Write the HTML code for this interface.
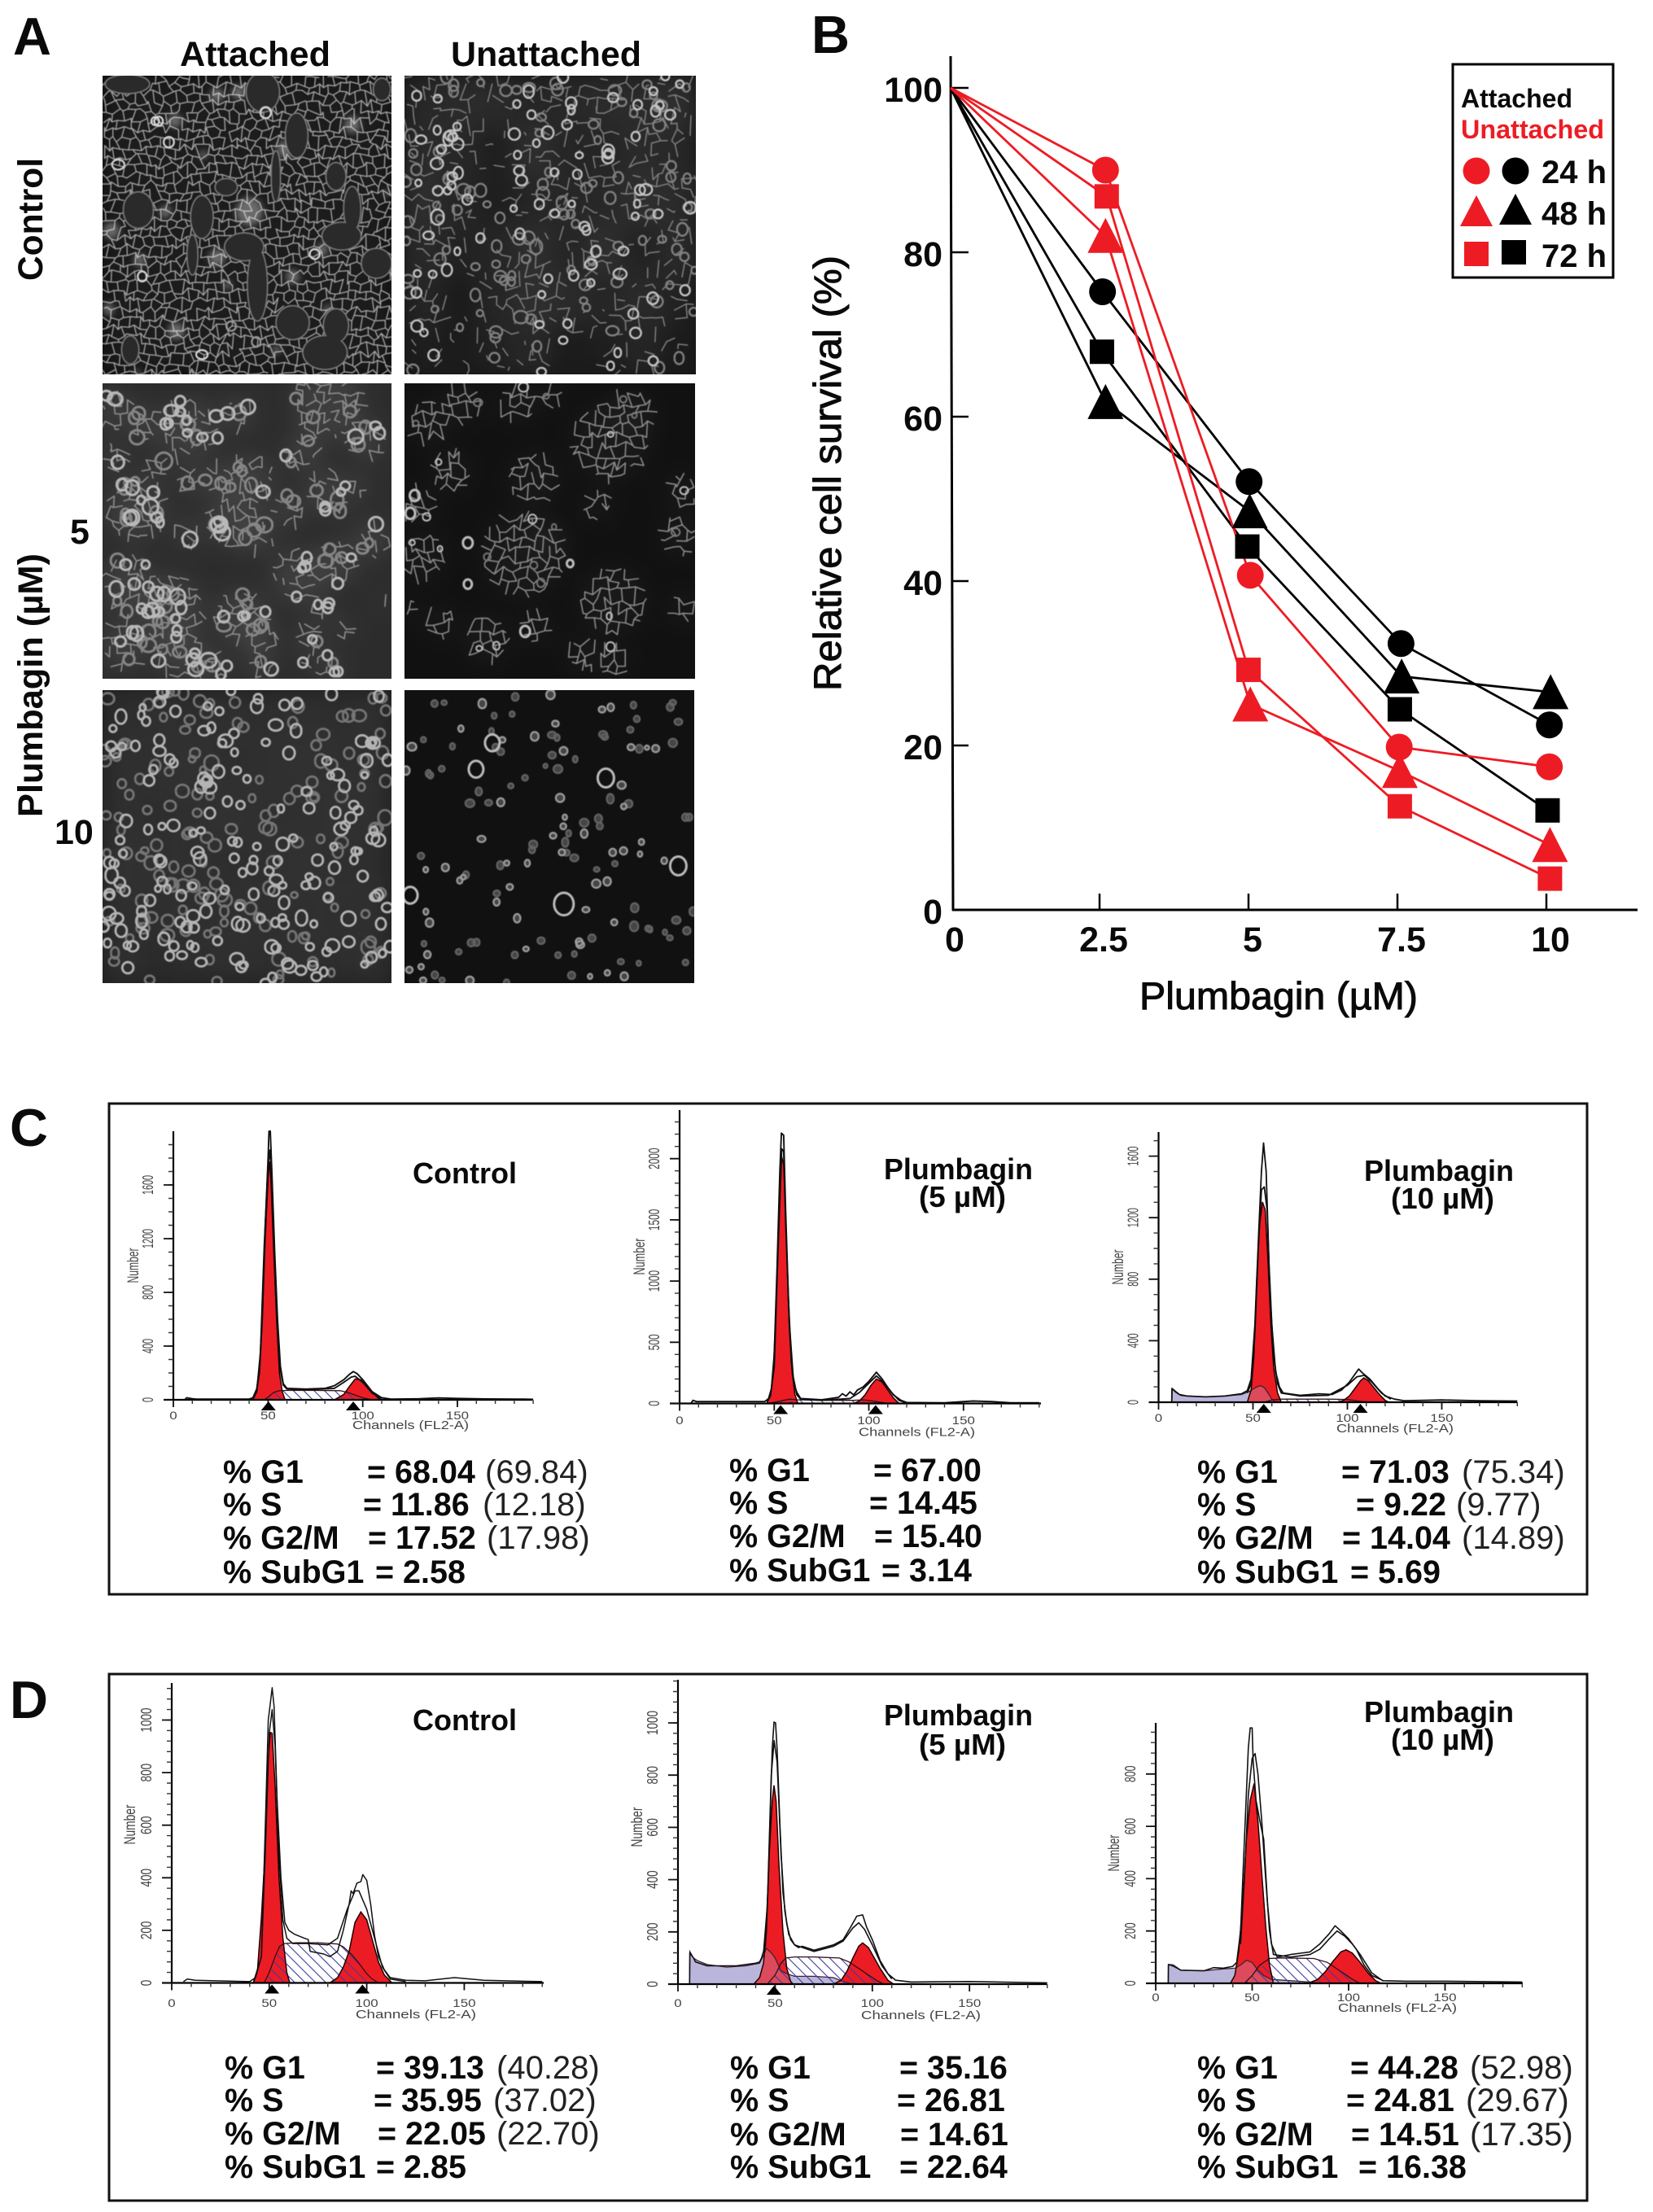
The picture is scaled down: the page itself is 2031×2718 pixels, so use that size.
<!DOCTYPE html>
<html lang="en">
<head>
<meta charset="utf-8">
<title>Plumbagin cell survival and cell cycle figure</title>
<style>
html,body{margin:0;padding:0;background:#fff;}
svg{display:block;}
text{font-family:"Liberation Sans",sans-serif;fill:#0a0a0a;}
.b{font-weight:700;}
.letter{font-weight:700;font-size:65px;}
.h43{font-weight:700;font-size:43px;}
.stat{font-weight:700;font-size:39.5px;}
.paren{font-weight:400;fill:#222;font-size:40px;}
.ttl{font-weight:700;font-size:36px;}
.axt{font-weight:400;font-size:47px;stroke:#0a0a0a;stroke-width:1px;}
.leg{font-weight:700;font-size:32px;}
.legh{font-weight:700;font-size:40px;}
.hy{fill:#444;font-size:18px;}
.hn{fill:#444;font-size:19px;}
.hx{fill:#444;font-size:13.5px;}
.hc{fill:#444;font-size:14.5px;}
</style>
</head>
<body>
<svg id="figure" xmlns="http://www.w3.org/2000/svg" width="2031" height="2718" viewBox="0 0 2031 2718">
<defs>
<pattern id="hatch" patternUnits="userSpaceOnUse" width="9" height="9" patternTransform="rotate(-45)">
<line x1="0" y1="0" x2="0" y2="9" stroke="#3d3d9c" stroke-width="2.2"/>
</pattern>
<filter id="soft" x="-20%" y="-20%" width="140%" height="140%"><feGaussianBlur stdDeviation="14"/></filter>
<filter id="mid" x="-20%" y="-20%" width="140%" height="140%"><feGaussianBlur stdDeviation="4"/></filter>
<filter id="fine" x="-5%" y="-5%" width="110%" height="110%"><feGaussianBlur stdDeviation="0.6"/></filter>
</defs>
<rect x="0" y="0" width="2031" height="2718" fill="#fff"/>

<!-- Panel A -->
<text class="letter" x="16" y="67">A</text>
<text class="h43" x="221" y="81" textLength="185" lengthAdjust="spacingAndGlyphs">Attached</text>
<text class="h43" x="554" y="81" textLength="234" lengthAdjust="spacingAndGlyphs">Unattached</text>
<text class="h43" transform="translate(52,345) rotate(-90)" textLength="151" lengthAdjust="spacingAndGlyphs">Control</text>
<text class="h43" transform="translate(52,1004) rotate(-90)" textLength="324" lengthAdjust="spacingAndGlyphs">Plumbagin (µM)</text>
<text class="h43" x="86" y="668">5</text>
<text class="h43" x="67" y="1037">10</text>
<g id="micrographs"></g>

<!-- Panel B -->
<text class="letter" x="997" y="65">B</text>
<text class="axt" transform="translate(1033,849) rotate(-90)" textLength="535" lengthAdjust="spacingAndGlyphs">Relative cell survival (%)</text>
<text class="axt" x="1400" y="1240" textLength="342" lengthAdjust="spacingAndGlyphs">Plumbagin (µM)</text>
<g id="survival"></g>
<g>
<rect x="1785" y="79" width="197" height="262" fill="#fff" stroke="#000" stroke-width="3"/>
<text class="leg" x="1795" y="132" textLength="137" lengthAdjust="spacingAndGlyphs">Attached</text>
<text class="leg" x="1795" y="170" textLength="176" lengthAdjust="spacingAndGlyphs" style="fill:#ed1c24">Unattached</text>
<circle cx="1814" cy="210" r="16.5" fill="#ed1c24"/>
<circle cx="1862" cy="210" r="16.5" fill="#000"/>
<polygon points="1794,278 1834,278 1814,240" fill="#ed1c24"/>
<polygon points="1842,276 1882,276 1862,238" fill="#000"/>
<rect x="1799" y="297" width="30" height="30" fill="#ed1c24"/>
<rect x="1845" y="295" width="30" height="30" fill="#000"/>
<text class="legh" x="1894" y="225" textLength="80" lengthAdjust="spacingAndGlyphs">24 h</text>
<text class="legh" x="1894" y="276" textLength="80" lengthAdjust="spacingAndGlyphs">48 h</text>
<text class="legh" x="1894" y="328" textLength="80" lengthAdjust="spacingAndGlyphs">72 h</text>
</g>

<!-- Panel C -->
<text class="letter" x="12" y="1408">C</text>
<rect x="134" y="1356" width="1816" height="603" fill="none" stroke="#111" stroke-width="3"/>
<text class="ttl" x="507" y="1454" textLength="128" lengthAdjust="spacingAndGlyphs">Control</text>
<text class="ttl" x="1086" y="1449" textLength="183" lengthAdjust="spacingAndGlyphs">Plumbagin</text>
<text class="ttl" x="1129" y="1483" textLength="107" lengthAdjust="spacingAndGlyphs">(5 µM)</text>
<text class="ttl" x="1676" y="1451" textLength="184" lengthAdjust="spacingAndGlyphs">Plumbagin</text>
<text class="ttl" x="1709" y="1485" textLength="127" lengthAdjust="spacingAndGlyphs">(10 µM)</text>

<g>
<text class="stat" y="1822"><tspan x="274">% G1</tspan><tspan x="451">= 68.04</tspan><tspan x="596" class="paren">(69.84)</tspan></text>
<text class="stat" y="1862"><tspan x="274">% S</tspan><tspan x="446">= 11.86</tspan><tspan x="593" class="paren">(12.18)</tspan></text>
<text class="stat" y="1903"><tspan x="274">% G2/M</tspan><tspan x="452">= 17.52</tspan><tspan x="598" class="paren">(17.98)</tspan></text>
<text class="stat" y="1945"><tspan x="274">% SubG1</tspan><tspan x="461">= 2.58</tspan></text>
</g>
<g>
<text class="stat" y="1820"><tspan x="896">% G1</tspan><tspan x="1073">= 67.00</tspan></text>
<text class="stat" y="1860"><tspan x="896">% S</tspan><tspan x="1068">= 14.45</tspan></text>
<text class="stat" y="1901"><tspan x="896">% G2/M</tspan><tspan x="1074">= 15.40</tspan></text>
<text class="stat" y="1943"><tspan x="896">% SubG1</tspan><tspan x="1083">= 3.14</tspan></text>
</g>
<g>
<text class="stat" y="1822"><tspan x="1471">% G1</tspan><tspan x="1648">= 71.03</tspan><tspan x="1796" class="paren">(75.34)</tspan></text>
<text class="stat" y="1862"><tspan x="1471">% S</tspan><tspan x="1666">= 9.22</tspan><tspan x="1789" class="paren">(9.77)</tspan></text>
<text class="stat" y="1903"><tspan x="1471">% G2/M</tspan><tspan x="1649">= 14.04</tspan><tspan x="1796" class="paren">(14.89)</tspan></text>
<text class="stat" y="1945"><tspan x="1471">% SubG1</tspan><tspan x="1659">= 5.69</tspan></text>
</g>

<!-- Panel D -->
<text class="letter" x="12" y="2111">D</text>
<rect x="134" y="2057" width="1816" height="647" fill="none" stroke="#111" stroke-width="3"/>
<text class="ttl" x="507" y="2126" textLength="128" lengthAdjust="spacingAndGlyphs">Control</text>
<text class="ttl" x="1086" y="2120" textLength="183" lengthAdjust="spacingAndGlyphs">Plumbagin</text>
<text class="ttl" x="1129" y="2156" textLength="107" lengthAdjust="spacingAndGlyphs">(5 µM)</text>
<text class="ttl" x="1676" y="2116" textLength="184" lengthAdjust="spacingAndGlyphs">Plumbagin</text>
<text class="ttl" x="1709" y="2150" textLength="127" lengthAdjust="spacingAndGlyphs">(10 µM)</text>

<g>
<text class="stat" y="2554"><tspan x="276">% G1</tspan><tspan x="462">= 39.13</tspan><tspan x="610" class="paren">(40.28)</tspan></text>
<text class="stat" y="2594"><tspan x="276">% S</tspan><tspan x="459">= 35.95</tspan><tspan x="606" class="paren">(37.02)</tspan></text>
<text class="stat" y="2635"><tspan x="276">% G2/M</tspan><tspan x="464">= 22.05</tspan><tspan x="610" class="paren">(22.70)</tspan></text>
<text class="stat" y="2676"><tspan x="276">% SubG1</tspan><tspan x="462">= 2.85</tspan></text>
</g>
<g>
<text class="stat" y="2554"><tspan x="897">% G1</tspan><tspan x="1105">= 35.16</tspan></text>
<text class="stat" y="2594"><tspan x="897">% S</tspan><tspan x="1102">= 26.81</tspan></text>
<text class="stat" y="2636"><tspan x="897">% G2/M</tspan><tspan x="1106">= 14.61</tspan></text>
<text class="stat" y="2676"><tspan x="897">% SubG1</tspan><tspan x="1105">= 22.64</tspan></text>
</g>
<g>
<text class="stat" y="2554"><tspan x="1471">% G1</tspan><tspan x="1659">= 44.28</tspan><tspan x="1806" class="paren">(52.98)</tspan></text>
<text class="stat" y="2594"><tspan x="1471">% S</tspan><tspan x="1654">= 24.81</tspan><tspan x="1801" class="paren">(29.67)</tspan></text>
<text class="stat" y="2636"><tspan x="1471">% G2/M</tspan><tspan x="1660">= 14.51</tspan><tspan x="1806" class="paren">(17.35)</tspan></text>
<text class="stat" y="2676"><tspan x="1471">% SubG1</tspan><tspan x="1669">= 16.38</tspan></text>
</g>
<g id="histograms"></g>
</svg>

<script>
/* ---------- Panel B data ---------- */
const survivalTicks = [0, 20, 40, 60, 80, 100];
const doseTicks = [0, 2.5, 5, 7.5, 10];
const doseTickLabels = ['0', '2.5', '5', '7.5', '10'];
const attached24hDose = [0, 2.55, 5.01, 7.56, 10.05];
const attached24h = [100, 75.2, 52.1, 32.4, 22.5];
const attached48hDose = [0, 2.6, 5.02, 7.57, 10.07];
const attached48h = [100, 61.8, 48.5, 28.4, 26.5];
const attached72hDose = [0, 2.54, 4.98, 7.54, 10.02];
const attached72h = [100, 67.9, 44.2, 24.4, 12.1];
const unattached24hDose = [0, 2.6, 5.03, 7.53, 10.05];
const unattached24h = [100, 90, 40.7, 19.8, 17.4];
const unattached48hDose = [0, 2.6, 5.03, 7.54, 10.06];
const unattached48h = [100, 82, 25, 16.9, 7.9];
const unattached72hDose = [0, 2.62, 5, 7.54, 10.06];
const unattached72h = [100, 86.8, 29.2, 12.6, 3.8];

/* ---------- Panels C and D data: channel / cell-count pairs ---------- */
const c1G1Ch = [42,44,45.5,47,48.5,50,50.8,51.5,53,54.5,56,57.5,59];
const c1G1N = [0,60,200,600,1200,1650,1775,1650,1100,600,200,60,0];
const c1G2Ch = [85,90,93,96,99,102,105,108,110];
const c1G2N = [0,40,100,155,150,105,55,15,0];
const c1SCh = [48,50,53,56,60,75,88,92,96,100,105];
const c1SN = [0,20,55,68,70,70,68,55,35,15,0];
const c1RawCh = [6,7,10,12,40,42,44,45.5,47,48.5,50,50.5,51.2,52,53.5,55,56.5,58,60,70,80,85,90,93,95,97,100,105,110,115,130,140,150,165,185,190];
const c1RawN = [0,15,8,5,5,15,80,230,650,1300,1800,2000,2000,1700,1100,600,250,120,85,80,85,105,150,190,210,195,150,60,15,5,8,14,10,6,5,3];
const c1FitCh = [42,44,46,48,50,51,52,54,56,58,60,70,85,90,94,96,100,105,110];
const c1FitN = [5,60,350,1150,1750,1860,1650,800,260,110,80,75,85,130,170,175,130,50,10];

const c2G1Ch = [46,48,49.5,51,52.5,54,55,56.5,58,59.5,61,62.5];
const c2G1N = [0,60,250,800,1600,2015,1950,1300,600,250,70,0];
const c2G2Ch = [92,95,98,101,104,107,110,113,116];
const c2G2N = [0,20,70,145,200,175,110,45,0];
const c2SCh = [47,52,58,62,75,92,97,104,110];
const c2SN = [0,15,35,30,25,25,30,15,0];
const c2RawCh = [6,7,9,45,47,48.5,50,51.5,53,53.8,55,56,57.5,59,60.5,62,64,75,84,86,88,90,92,94,97,100,104,107,110,113,117,120,140,155,165,175,190];
const c2RawN = [0,25,15,15,40,120,400,1100,1900,2209,2190,1600,850,350,150,90,40,30,50,80,60,95,70,110,135,180,255,200,130,70,25,8,5,20,15,5,5];
const c2FitCh = [46,48,50,52,54,55,56,58,60,62,64,75,90,95,100,104,108,112,116,120];
const c2FitN = [15,60,300,1250,2080,2060,1500,650,220,70,35,25,40,90,165,225,170,90,25,5];

const c3G1Ch = [47,49,50.5,52,53.5,55,56.5,58,59.5,61,63,65];
const c3G1N = [0,80,300,800,1150,1302,1250,900,500,220,60,0];
const c3G2Ch = [95,98,101,104,107,108.7,111,114,117,120,122];
const c3G2N = [0,12,40,90,140,158,140,95,50,12,0];
const c3SCh = [56,60,65,90,100,108,115];
const c3SN = [0,15,20,20,18,5,0];
const c3SubCh = [7,7.2,9,12,25,35,44,48,52,54,56,58,60,62];
const c3SubN = [0,86,65,43,35,40,50,70,100,108,95,60,20,0];
const c3RawCh = [7,7.1,9,11,15,25,35,44,47,49,51,53,54.5,55.6,57,58.5,60,62,64,66,75,85,92,97,101,106,108,112,116,120,125,130,150,170,190];
const c3RawN = [0,90,70,50,40,35,40,55,75,150,500,1100,1500,1685,1500,900,500,200,100,60,45,55,50,80,130,216,190,150,90,40,20,10,15,10,8];
const c3FitCh = [47,49,51,53,54.5,56,57.5,59,61,63,65,75,90,100,105,109,113,118,123];
const c3FitN = [60,120,450,1050,1380,1400,1250,700,300,120,60,40,45,110,165,175,130,60,20];

const d1G1Ch = [42,44,46,47.5,49,50.5,51.5,53,55,57,59,60.5];
const d1G1N = [0,50,250,450,800,953,950,750,400,170,40,0];
const d1G2Ch = [81,85,88,91,94,97,100,103,106,109,113];
const d1G2N = [0,20,60,120,230,270,240,160,80,30,0];
const d1SCh = [47.4,50,53,55.4,58,64,75,85,88,92,96,100,102.6,106];
const d1SN = [0,40,100,140,150,153,153,148,137,110,75,35,16,0];
const d1RawCh = [6,8,12,40,43,46,48,49.5,50.5,51.5,52.5,54,56,58,60,63,68,70,71,78,81,85,88,91,92,93,95,97,98,100,102,104,106,109,112,120,130,145,160,190];
const d1RawN = [5,15,10,5,20,100,600,1000,1060,1123,1050,700,400,230,200,185,170,165,120,110,100,120,200,300,350,340,380,385,412,390,300,180,100,50,20,10,8,20,10,5];
const d1FitCh = [42,46,48,50,51.5,53,55,57,59,62,70,80,85,90,94,96,100,104,108,112,120];
const d1FitN = [5,100,500,950,1040,900,480,240,170,150,150,145,170,280,350,350,280,170,60,15,5];

const d2G1Ch = [39,42,44,45.5,47,48.5,49.4,50.5,52,54,56,58,59];
const d2G1N = [0,25,80,200,500,700,761,700,450,200,60,10,0];
const d2G2Ch = [80,84,87,90,93,95,98,101,104,108,111];
const d2G2N = [0,15,50,100,145,158,140,100,60,15,0];
const d2SCh = [46,50,53,55.5,60,70,83,88,93,98,102,106];
const d2SN = [0,35,80,100,104,104,100,85,60,35,15,0];
const d2SubCh = [6,6.1,8,10,15,25,35,42,44,45.5,48,50,53,56,60,70,80,85,90];
const d2SubN = [0,125,100,90,75,65,70,80,110,137,120,100,50,40,30,30,25,10,0];
const d2RawCh = [6,6.1,8,9,15,30,40,42,43,45,46.5,47.5,48.5,49.4,50.2,51,52.5,54,56,58,60,62,64,70,80,85,89,92,95,97,100,104,108,112,120,150,190];
const d2RawN = [0,120,100,85,70,70,80,85,100,150,400,650,900,1003,1000,900,600,350,230,170,150,140,145,130,150,170,220,260,265,220,170,90,40,15,8,10,5];
const d2FitCh = [44,46,48,49.5,51,53,55,57,60,70,80,85,90,93,96,100,105,110];
const d2FitN = [120,300,800,932,850,500,280,190,150,125,145,165,215,235,210,150,70,20];

const d3G1Ch = [38.7,41,43,45,47,49,51,53,55,57,59,61];
const d3G1N = [0,30,120,300,550,700,764,620,420,220,70,0];
const d3G2Ch = [79,84,88,92,96,98.7,102,106,110,114,117];
const d3G2N = [0,15,45,85,120,128,115,80,40,10,0];
const d3SCh = [46,50,54,59,65,82,89,93,98,102,106];
const d3SN = [0,30,70,95,97,95,80,60,35,15,0];
const d3SubCh = [6.5,6.6,9,13,25,35,41,44,47,50,53,56,60,70,80,85];
const d3SubN = [0,72,65,50,48,55,58,70,88,80,50,30,15,10,5,0];
const d3RawCh = [6.5,6.6,9,13,25,30,35,40,42,44,46,48,49,50,50.5,52,54,56,58,60,63,70,75,80,85,90,93,96,100,104,108,112,118,130,150,190];
const d3RawN = [0,72,70,50,48,60,58,65,80,200,550,900,976,976,850,700,620,550,300,150,100,110,115,120,150,190,220,200,170,130,70,30,10,8,8,5];
const d3FitCh = [44,46,48,50,51.5,53,55,57,59,61,70,80,85,90,94,98,102,106,112,118];
const d3FitN = [150,400,720,860,878,800,620,400,200,110,100,110,130,170,200,180,150,110,40,8];

const c1YTicks = [0,400,800,1200,1600];
const c2YTicks = [0,500,1000,1500,2000];
const c3YTicks = [0,400,800,1200,1600];
const d1YTicks = [0,200,400,600,800,1000];
const d2YTicks = [0,200,400,600,800,1000];
const d3YTicks = [0,200,400,600,800];
const channelTicks = [0,50,100,150];
const c1Peaks = [50.2,95];
const c2Peaks = [53.4,103.6];
const c3Peaks = [55.7,106.9];
const d1Peaks = [51.4,97.8];
const d2Peaks = [49.4];
const d3Peaks = [];

/* ---------- helpers ---------- */
const NS = 'http://www.w3.org/2000/svg';
function make(tag, props, parent) {
  const e = document.createElementNS(NS, tag);
  for (const k in props) e.setAttribute(k, props[k]);
  parent.appendChild(e);
  return e;
}
function pathFrom(xs, ys) {
  return xs.map((v, i) => (i ? 'L' : 'M') + v.toFixed(1) + ' ' + ys[i].toFixed(1)).join('');
}

/* ---------- survival chart ---------- */
(function drawSurvival() {
  const root = document.getElementById('survival');
  const xOf = v => 1168 + 73.2 * v;
  const yOf = v => 1118 - 10.1 * v;
  const yAxis = make('line', {x1: 1168, y1: 69, x2: 1171, y2: 1119, stroke: '#000', 'stroke-width': 3}, root);
  
  
  const xAxis = make('line', {x1: 1170, y1: 1118, x2: 2012, y2: 1118, stroke: '#000', 'stroke-width': 3}, root);
  
  
  survivalTicks.forEach(v => {
    if (v > 0) {
      const t = make('line', {x1: 1169, y1: yOf(v), x2: 1190, y2: yOf(v), stroke: '#000', 'stroke-width': 2.5}, root);
      
      
    }
    const l = make('text', {x: 1158, y: yOf(v) + 17, 'text-anchor': 'end', class: 'h43'}, root);
    l.textContent = String(v);
    
    
  });
  doseTicks.forEach((v, i) => {
    if (v > 0) {
      const t = make('line', {x1: xOf(v), y1: 1118, x2: xOf(v), y2: 1098, stroke: '#000', 'stroke-width': 2.5}, root);
      
      
    }
    const l = make('text', {x: xOf(v) + 5, y: 1169, 'text-anchor': 'middle', class: 'h43'}, root);
    l.textContent = doseTickLabels[i];
    
    
  });
  const groups = [
    ['attached-24h', attached24hDose, attached24h, '#000', 'circle'],
    ['attached-72h', attached72hDose, attached72h, '#000', 'square'],
    ['attached-48h', attached48hDose, attached48h, '#000', 'triangle'],
    ['unattached-24h', unattached24hDose, unattached24h, '#ed1c24', 'circle'],
    ['unattached-72h', unattached72hDose, unattached72h, '#ed1c24', 'square'],
    ['unattached-48h', unattached48hDose, unattached48h, '#ed1c24', 'triangle']
  ];
  groups.forEach(g => {
    const xs = g[1].map(xOf), ys = g[2].map(yOf);
    const line = make('path', {d: pathFrom(xs, ys), fill: 'none', stroke: g[3], 'stroke-width': 2.8}, root);
    
    
  });
  groups.forEach(g => {
    g[1].forEach((d, i) => {
      if (i === 0) return;
      const cx = xOf(d), cy = yOf(g[2][i]);
      let m;
      if (g[4] === 'circle') m = make('circle', {cx: cx, cy: cy, r: 16.5, fill: g[3]}, root);
      else if (g[4] === 'square') m = make('rect', {x: cx - 15, y: cy - 15, width: 30, height: 30, fill: g[3]}, root);
      else m = make('polygon', {points: (cx - 22) + ',' + (cy + 21) + ' ' + (cx + 22) + ',' + (cy + 21) + ' ' + cx + ',' + (cy - 22), fill: g[3]}, root);
      
      
    });
  });
})();

/* ---------- histograms ---------- */
function drawHistogram(c) {
  const root = document.getElementById('histograms');
  const g = make('g', {}, root);
  
  
  const xOf = ch => c.ax + ch * c.xs;
  const yOf = n => c.ay - n * c.ys;
  const area = (chs, ns) => pathFrom(chs.map(xOf), ns.map(yOf)) + 'Z';

  if (c.subCh) {
    const sub = make('path', {d: area(c.subCh, c.subN), fill: '#bab7dc'}, g);
    
    
  }
  const g1 = make('path', {d: area(c.g1Ch, c.g1N), fill: '#ec1c24'}, g);
  
  
  const g2 = make('path', {d: area(c.g2Ch, c.g2N), fill: '#ec1c24'}, g);
  
  
  if (c.subCh) {
    const tint = make('path', {d: area(c.subCh, c.subN), fill: '#bab7dc', opacity: 0.3}, g);
    
    
    const subLine = make('path', {d: pathFrom(c.subCh.map(xOf), c.subN.map(yOf)), fill: 'none', stroke: '#402030', 'stroke-width': 1.3}, g);
    
    
  }
  const s = make('path', {d: area(c.sCh, c.sN), fill: 'url(#hatch)'}, g);
  
  
  const sLine = make('path', {d: pathFrom(c.sCh.map(xOf), c.sN.map(yOf)), fill: 'none', stroke: '#301018', 'stroke-width': 1.3}, g);
  
  
  const g1Line = make('path', {d: pathFrom(c.g1Ch.map(xOf), c.g1N.map(yOf)), fill: 'none', stroke: '#200', 'stroke-width': 1.5}, g);
  
  
  const g2Line = make('path', {d: pathFrom(c.g2Ch.map(xOf), c.g2N.map(yOf)), fill: 'none', stroke: '#200', 'stroke-width': 1.5}, g);
  
  
  const fit = make('path', {d: pathFrom(c.fitCh.map(xOf), c.fitN.map(yOf)), fill: 'none', stroke: '#111', 'stroke-width': c.lineW, 'stroke-linejoin': 'round'}, g);
  
  
  const raw = make('path', {d: pathFrom(c.rawCh.map(xOf), c.rawN.map(yOf)), fill: 'none', stroke: '#111', 'stroke-width': c.lineW, 'stroke-linejoin': 'round'}, g);
  
  

  /* axes */
  const axes = make('path', {d: 'M' + c.ax + ' ' + c.top + 'V' + c.ay + 'M' + (c.ax - 12) + ' ' + c.ay + 'H' + c.xEnd, fill: 'none', stroke: '#000', 'stroke-width': 2.2}, g);
  
  
  let minor = '';
  for (let v = c.minorStep; v <= c.yMax; v += c.minorStep) minor += 'M' + (c.ax - 6) + ' ' + yOf(v).toFixed(1) + 'H' + c.ax;
  for (let ch = 10; ch <= 190; ch += 10) minor += 'M' + xOf(ch).toFixed(1) + ' ' + c.ay + 'v5';
  const minorTicks = make('path', {d: minor, fill: 'none', stroke: '#333', 'stroke-width': 1.4}, g);
  
  
  let major = '';
  c.yTicks.forEach(v => { major += 'M' + (c.ax - 12) + ' ' + yOf(v).toFixed(1) + 'H' + c.ax; });
  channelTicks.forEach(ch => { major += 'M' + xOf(ch).toFixed(1) + ' ' + c.ay + 'v9'; });
  const majorTicks = make('path', {d: major, fill: 'none', stroke: '#111', 'stroke-width': 1.8}, g);
  
  

  c.yTicks.forEach(v => {
    const txt = String(v);
    const t = make('text', {transform: 'translate(' + (c.ax - 25) + ',' + yOf(v).toFixed(1) + ') rotate(-90)', 'text-anchor': 'middle', class: 'hy', textLength: txt.length * c.digit, lengthAdjust: 'spacingAndGlyphs'}, g);
    t.textContent = txt;
    
    
  });
  channelTicks.forEach(ch => {
    const txt = String(ch);
    const t = make('text', {x: xOf(ch).toFixed(1), y: c.tickBase, 'text-anchor': 'middle', class: 'hx', textLength: txt.length * 9.4, lengthAdjust: 'spacingAndGlyphs'}, g);
    t.textContent = txt;
    
    
  });
  const num = make('text', {transform: 'translate(' + c.numX + ',' + c.numY + ') rotate(-90)', 'text-anchor': 'middle', class: 'hn', textLength: c.numLen, lengthAdjust: 'spacingAndGlyphs'}, g);
  num.textContent = 'Number';
  
  
  const chan = make('text', {x: c.chX, y: c.chBase, class: 'hc', textLength: c.chW, lengthAdjust: 'spacingAndGlyphs'}, g);
  chan.textContent = 'Channels (FL2-A)';
  
  
  c.peaks.forEach(ch => {
    const x = xOf(ch);
    const tri = make('polygon', {points: (x - 9) + ',' + (c.ay + 13) + ' ' + (x + 9) + ',' + (c.ay + 13) + ' ' + x + ',' + (c.ay + 2), fill: '#000'}, g);
    
    
  });
}

drawHistogram({name:'c-control', lineW:1.9, ax:213, ay:1720, xs:2.327, ys:0.165, top:1390, xEnd:654, yTicks:c1YTicks, minorStep:100, yMax:1900, digit:6, numX:170, numY:1555, numLen:43, tickBase:1744, chX:433, chW:143, chBase:1756, peaks:c1Peaks,
  g1Ch:c1G1Ch, g1N:c1G1N, g2Ch:c1G2Ch, g2N:c1G2N, sCh:c1SCh, sN:c1SN, rawCh:c1RawCh, rawN:c1RawN, fitCh:c1FitCh, fitN:c1FitN});
drawHistogram({name:'c-5um', lineW:1.9, ax:835, ay:1724.5, xs:2.325, ys:0.1504, top:1364, xEnd:1279, yTicks:c2YTicks, minorStep:100, yMax:2300, digit:6.6, numX:792, numY:1544, numLen:45, tickBase:1750, chX:1055, chW:143, chBase:1764.5, peaks:c2Peaks,
  g1Ch:c2G1Ch, g1N:c2G1N, g2Ch:c2G2Ch, g2N:c2G2N, sCh:c2SCh, sN:c2SN, rawCh:c2RawCh, rawN:c2RawN, fitCh:c2FitCh, fitN:c2FitN});
drawHistogram({name:'c-10um', lineW:1.8, ax:1423.5, ay:1723, xs:2.32, ys:0.189, top:1391, xEnd:1864, yTicks:c3YTicks, minorStep:100, yMax:1700, digit:6, numX:1380, numY:1557, numLen:43, tickBase:1747, chX:1642, chW:144, chBase:1760, peaks:c3Peaks, subCh:c3SubCh, subN:c3SubN,
  g1Ch:c3G1Ch, g1N:c3G1N, g2Ch:c3G2Ch, g2N:c3G2N, sCh:c3SCh, sN:c3SN, rawCh:c3RawCh, rawN:c3RawN, fitCh:c3FitCh, fitN:c3FitN});
drawHistogram({name:'d-control', lineW:1.5, ax:211, ay:2436.5, xs:2.396, ys:0.323, top:2068, xEnd:668, yTicks:d1YTicks, minorStep:40, yMax:1120, digit:7.5, numX:166, numY:2242, numLen:49, tickBase:2466, chX:437, chW:148, chBase:2480, peaks:d1Peaks,
  g1Ch:d1G1Ch, g1N:d1G1N, g2Ch:d1G2Ch, g2N:d1G2N, sCh:d1SCh, sN:d1SN, rawCh:d1RawCh, rawN:d1RawN, fitCh:d1FitCh, fitN:d1FitN});
drawHistogram({name:'d-5um', lineW:1.6, ax:833, ay:2438, xs:2.388, ys:0.321, top:2064, xEnd:1286.5, yTicks:d2YTicks, minorStep:40, yMax:1160, digit:7.5, numX:789, numY:2245, numLen:49, tickBase:2466, chX:1058, chW:147, chBase:2481, peaks:d2Peaks, subCh:d2SubCh, subN:d2SubN,
  g1Ch:d2G1Ch, g1N:d2G1N, g2Ch:d2G2Ch, g2N:d2G2N, sCh:d2SCh, sN:d2SN, rawCh:d2RawCh, rawN:d2RawN, fitCh:d2FitCh, fitN:d2FitN});
drawHistogram({name:'d-10um', lineW:1.6, ax:1420, ay:2437, xs:2.37, ys:0.3215, top:2117, xEnd:1871, yTicks:d3YTicks, minorStep:40, yMax:960, digit:6.8, numX:1375, numY:2277, numLen:45, tickBase:2459, chX:1644, chW:146, chBase:2472, peaks:d3Peaks, subCh:d3SubCh, subN:d3SubN,
  g1Ch:d3G1Ch, g1N:d3G1N, g2Ch:d3G2Ch, g2N:d3G2N, sCh:d3SCh, sN:d3SN, rawCh:d3RawCh, rawN:d3RawN, fitCh:d3FitCh, fitN:d3FitN});

/* ---------- micrograph textures (illustrative photos, not chart data) ---------- */
function seeded(seed) {
  return function () {
    seed = (seed + 0x6D2B79F5) | 0;
    let t = Math.imul(seed ^ (seed >>> 15), 1 | seed);
    t = (t + Math.imul(t ^ (t >>> 7), 61 | t)) ^ t;
    return ((t ^ (t >>> 14)) >>> 0) / 4294967296;
  };
}
function ringPath(x, y, rx, ry) {
  return 'M' + (x - rx).toFixed(1) + ' ' + y.toFixed(1) + 'a' + rx.toFixed(1) + ' ' + ry.toFixed(1) + ' 0 1 0 ' + (2 * rx).toFixed(1) + ' 0a' + rx.toFixed(1) + ' ' + ry.toFixed(1) + ' 0 1 0 ' + (-2 * rx).toFixed(1) + ' 0';
}
function drawMicrograph(p, index) {
  const root = document.getElementById('micrographs');
  const clip = make('clipPath', {id: 'mclip' + index}, root);
  make('rect', {x: p.x, y: p.y, width: p.w, height: p.h}, clip);
  const g = make('g', {'clip-path': 'url(#mclip' + index + ')'}, root);
  
  
  const bg = make('rect', {x: p.x, y: p.y, width: p.w, height: p.h, fill: p.bg}, g);
  
  
  const rnd = seeded(p.seed);
  const inHole = (u, v) => (p.holes || []).some(h => ((u - h[0]) / h[2]) ** 2 + ((v - h[1]) / h[3]) ** 2 < 1);
  const density = (u, v) => {
    if (u < 0 || v < 0 || u >= 1 || v >= 1 || inHole(u, v)) return 0;
    if (p.blobs) return p.blobs.some(b => (u - b[0]) ** 2 + (v - b[1]) ** 2 < b[2] * b[2]) ? 9 : 0;
    return +p.grid[Math.floor(v * p.grid.length)][Math.floor(u * p.grid[0].length)];
  };
  /* low-frequency glow */
  const glow = make('g', {filter: 'url(#soft)'}, g);
  
  
  if (p.grid) {
    const rows = p.grid.length, cols = p.grid[0].length;
    for (let r = 0; r < rows; r++) for (let c = 0; c < cols; c++) {
      const cell = make('rect', {x: p.x + c * p.w / cols, y: p.y + r * p.h / rows, width: p.w / cols + 1, height: p.h / rows + 1, fill: '#fff', opacity: (+p.grid[r][c] * p.glow).toFixed(3)}, glow);
      
      
    }
  } else {
    p.blobs.forEach(b => {
      const cell = make('ellipse', {cx: p.x + b[0] * p.w, cy: p.y + b[1] * p.h, rx: b[2] * p.w, ry: b[2] * p.h, fill: '#fff', opacity: p.glow * 9}, glow);
      
      
    });
  }
  const detail = make('g', {filter: 'url(#fine)'}, g);
  
  
  /* cell-to-cell honeycomb network */
  if (p.netStep) {
    const sx = p.netStep, sy = p.netStep * 1.7;
    const cols = Math.ceil(p.w / sx) + 3, rows = Math.ceil(p.h / sy) + 3, pts = [];
    for (let r = 0; r < rows; r++) {
      pts[r] = [];
      for (let c = 0; c < cols; c++) pts[r][c] = [p.x + (c - 1) * sx + (rnd() - 0.5) * sx * 1.05, p.y + (r - 1) * sy + (rnd() - 0.5) * sx * 1.4];
    }
    let d = '';
    const seg = (a, b) => {
      const u = ((a[0] + b[0]) / 2 - p.x) / p.w, v = ((a[1] + b[1]) / 2 - p.y) / p.h;
      if (rnd() < density(u, v) / 9 * p.netKeep) d += 'M' + a[0].toFixed(1) + ' ' + a[1].toFixed(1) + 'L' + b[0].toFixed(1) + ' ' + b[1].toFixed(1);
    };
    for (let r = 0; r < rows; r++) for (let c = 0; c < cols; c++) {
      if (c + 1 < cols) seg(pts[r][c], pts[r][c + 1]);
      if (r + 1 < rows && (r + c) % 2 === 0) seg(pts[r][c], pts[r + 1][c]);
    }
    const net = make('path', {d: d, fill: 'none', stroke: p.netColor, 'stroke-width': p.netWidth, 'stroke-linecap': 'round'}, detail);
    
    
  }
  /* bright clumps */
  if (p.spots) {
    const spots = make('g', {filter: 'url(#mid)'}, detail);
    
    
    let d = '';
    p.spots.forEach(b => { d += ringPath(p.x + b[0] * p.w, p.y + b[1] * p.h, b[2] * p.w, b[2] * p.h); });
    const clumps = make('path', {d: d, fill: '#fff', opacity: 0.34}, spots);
    
    
  }
  /* dark gaps between cells: outline first, then fill so overlaps merge */
  if (p.holes) {
    let d = '';
    p.holes.forEach(h => { d += ringPath(p.x + h[0] * p.w, p.y + h[1] * p.h, h[2] * p.w, h[3] * p.h); });
    const edge = make('path', {d: d, fill: 'none', stroke: '#7a7a7a', 'stroke-width': 3}, detail);
    
    
    const fill = make('path', {d: d, fill: '#2a2a2a'}, detail);
    
    
  }
  /* round cells */
  if (p.rings) {
    let bright = '', dim = '', tries = 0, made = 0;
    while (made < p.rings && tries < p.rings * 30) {
      tries++;
      const u = rnd(), v = rnd();
      if (rnd() > density(u, v) / 9) continue;
      made++;
      const r = p.rMin + rnd() * (p.rMax - p.rMin);
      const piece = ringPath(p.x + u * p.w, p.y + v * p.h, r * (0.85 + rnd() * 0.3), r * (0.85 + rnd() * 0.3));
      if (rnd() < p.brightShare) bright += piece; else dim += piece;
    }
    const ringsDim = make('path', {d: dim, fill: p.ringFill || 'none', stroke: p.dimColor, 'stroke-width': p.ringWidth}, detail);
    
    
    const ringsBright = make('path', {d: bright, fill: p.ringFill || 'none', stroke: p.brightColor, 'stroke-width': p.ringWidth}, detail);
    
    
  }
  if (p.bigRings) {
    let d = '';
    p.bigRings.forEach(b => { d += ringPath(p.x + b[0] * p.w, p.y + b[1] * p.h, b[2], b[2] * 1.15); });
    const big = make('path', {d: d, fill: 'none', stroke: '#bbbbbb', 'stroke-width': 3}, detail);
    
    
  }
}
function unit(list, x0, w, y0, h) {
  return list.map(b => [(b[0] - x0) / w, (b[1] - y0) / h, b[2] / w]);
}
const micrographPanels = [
  {name:'micrograph-attached-control', x:126, y:93, w:355, h:367, bg:'#0d0d0d', seed:11, glow:0.007,
   grid:['99999999','99999999','99999999','99999999','99999999','99999999'],
   holes:[[0.555,0.055,0.056,0.065],[0.086,0.028,0.075,0.03],[0.124,0.45,0.05,0.055],[0.344,0.473,0.0375,0.07],[0.311,0.6,0.017,0.065],[0.428,0.373,0.037,0.027],[0.49,0.573,0.066,0.045],[0.536,0.7,0.033,0.12],[0.672,0.2,0.0375,0.073],[0.6,0.337,0.014,0.073],[0.808,0.337,0.033,0.045],[0.864,0.446,0.028,0.073],[0.827,0.537,0.066,0.045],[0.948,0.628,0.05,0.045],[0.658,0.827,0.056,0.055],[0.77,0.927,0.075,0.055],[0.808,0.837,0.042,0.055],[0.096,0.918,0.028,0.045],[0.967,0.046,0.028,0.036]],
   spots:unit([[285,175,25],[440,80,25],[520,70,25],[940,190,30],[250,510,20],[390,300,15],[560,510,50],[690,280,30],[50,580,30],[155,690,20],[440,680,30],[720,750,25],[290,950,30],[40,870,20],[480,780,15],[830,650,20],[1070,440,12],[660,1020,15],[850,870,15],[145,1105,12]],18,1067,9,1101),
   netStep:6.5, netKeep:0.97, netColor:'#a0a0a0', netWidth:1.4, rings:10, rMin:5, rMax:7, brightShare:0.7, brightColor:'#d8d8d8', dimColor:'#999', ringWidth:2.2},
  {name:'micrograph-unattached-control', x:497, y:93, w:358, h:367, bg:'#151515', seed:23, glow:0.013,
   grid:['67756778','76385576','85356687','74585847','52587574','32462352'],
   netStep:8, netKeep:0.55, netColor:'#808080', netWidth:1.5, rings:190, rMin:4, rMax:7.5, brightShare:0.5, brightColor:'#c2c2c2', dimColor:'#808080', ringWidth:2.4},
  {name:'micrograph-attached-5um', x:126, y:471, w:355, h:363, bg:'#2c2c2c', seed:37, glow:0.009,
   blobs:unit([[340,190,110],[60,120,70],[180,170,60],[520,130,60],[850,90,130],[760,270,70],[990,230,70],[140,480,110],[60,290,50],[215,330,40],[350,380,50],[450,370,50],[560,370,90],[500,520,100],[330,570,50],[590,580,60],[700,480,60],[850,420,80],[970,400,40],[1010,590,70],[880,680,80],[740,730,100],[110,760,100],[270,850,120],[100,980,90],[300,1010,90],[530,880,100],[600,960,60],[830,850,40],[780,950,50],[910,920,35],[850,1060,50],[600,1060,50],[1060,820,25],[760,1050,25],[420,1060,60]],18,1065,18,1089),
   netStep:7, netKeep:0.6, netColor:'#8a8a8a', netWidth:1.7, rings:150, rMin:5, rMax:9, brightShare:0.55, brightColor:'#b8b8b8', dimColor:'#858585', ringWidth:3},
  {name:'micrograph-unattached-5um', x:497, y:471, w:357, h:363, bg:'#111111', seed:41, glow:0.004,
   blobs:[[0.083,0.13,0.07],[0.195,0.066,0.065],[0.39,0.066,0.065],[0.503,0.04,0.04],[0.158,0.296,0.065],[0.709,0.195,0.13],[0.783,0.103,0.075],[0.447,0.323,0.085],[0.662,0.415,0.05],[0.055,0.415,0.055],[0.064,0.59,0.075],[0.41,0.58,0.14],[0.494,0.534,0.06],[0.718,0.736,0.11],[0.952,0.369,0.055],[0.952,0.516,0.065],[0.96,0.764,0.05],[0.28,0.865,0.075],[0.12,0.81,0.05],[0.457,0.828,0.05],[0.615,0.92,0.055],[0.718,0.939,0.05],[0.018,0.764,0.03]],
   netStep:7.5, netKeep:0.9, netColor:'#8a8a8a', netWidth:1.6, rings:22, rMin:3, rMax:5.5, brightShare:0.6, brightColor:'#bcbcbc', dimColor:'#777', ringWidth:2,
   bigRings:[[0.218,0.54,6],[0.218,0.68,5],[0.415,0.84,6],[0.02,0.44,6],[0.035,0.38,6],[0.57,0.61,4]]},
  {name:'micrograph-attached-10um', x:126, y:848, w:355, h:360, bg:'#1d1d1d', seed:53, glow:0.01,
   grid:['78787878','88978988','87898898','98878987','88888888','86787878'],
   rings:330, rMin:4, rMax:8, brightShare:0.55, brightColor:'#b4b4b4', dimColor:'#757575', ringWidth:2.8},
  {name:'micrograph-unattached-10um', x:497, y:848, w:356, h:360, bg:'#111111', seed:67, glow:0,
   grid:['44444444','44444444','44444444','44444444','44444444','44444444'],
   rings:135, rMin:3, rMax:5, brightShare:0.4, brightColor:'#9c9c9c', dimColor:'#646464', ringWidth:2.2, ringFill:'#444',
   bigRings:[[0.303,0.18,9],[0.247,0.27,9],[0.695,0.3,10],[0.02,0.7,9],[0.55,0.73,12],[0.945,0.6,10]]}
];
micrographPanels.forEach(drawMicrograph);
</script>
</body>
</html>
